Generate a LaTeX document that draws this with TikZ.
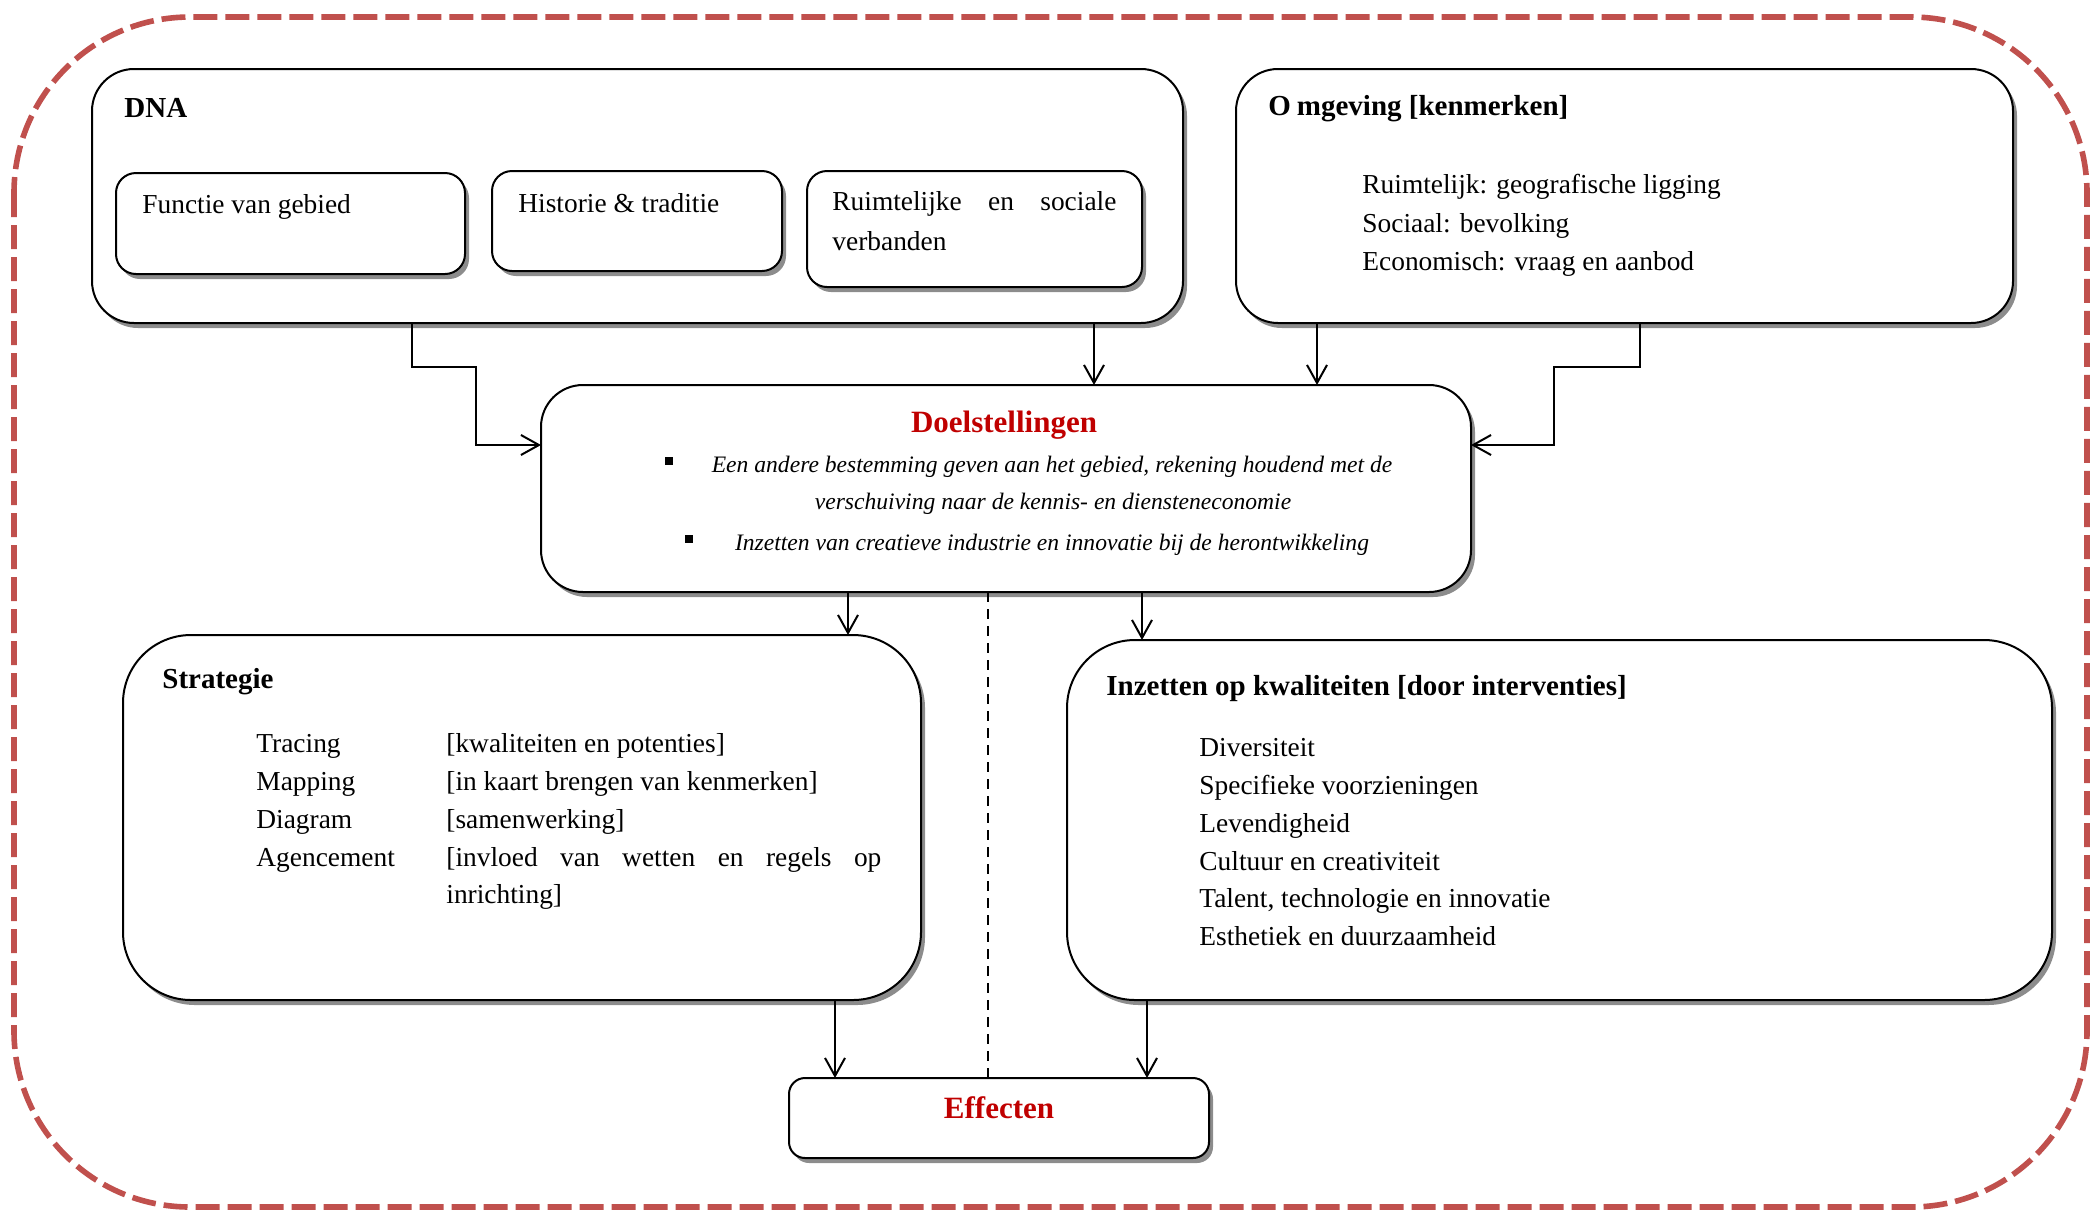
\documentclass[tikz,border=0pt]{standalone}
\usepackage{fontspec}
\setmainfont{Liberation Serif}
\usetikzlibrary{arrows.meta,shadows}
\definecolor{outerred}{RGB}{192,80,77}
\definecolor{titlered}{RGB}{192,0,0}
\tikzset{
  box/.style={draw, line width=1pt, fill=white, rounded corners=#1, inner sep=0pt, outer sep=0pt,
    drop shadow={shadow xshift=2pt, shadow yshift=-2.5pt, fill=black, opacity=0.45}},
  txt/.style={anchor=base west, inner sep=0pt, font=\fontsize{13.7}{16}\selectfont},
  ttl/.style={anchor=base west, inner sep=0pt, font=\fontsize{14.5}{17}\selectfont\bfseries},
  itl/.style={anchor=base, inner sep=0pt, font=\fontsize{11.8}{14}\selectfont\itshape},
  redttl/.style={anchor=base, inner sep=0pt, text=titlered, font=\fontsize{15.5}{18}\selectfont\bfseries},
  conn/.style={line width=1pt},
  arr/.style={conn, -{Straight Barb[length=9pt,width=10pt]}},
  bulletsq/.style={fill=black, minimum size=4pt, inner sep=0pt, outer sep=0pt},
  outerborder/.style={draw=outerred, line width=2.8pt, dash pattern=on 12pt off 4pt, rounded corners=88pt}
}
\begin{document}
\begin{tikzpicture}[x=0.5pt,y=-0.5pt]
\useasboundingbox (0,0) rectangle (2091,1211);
% outer dashed frame
\draw[outerborder] (14,17) rectangle (2087,1207);

% boxes
\node[box=21pt, minimum width=545.5pt, minimum height=127pt] (dna) at (637.5,196) {};
\node[box=10pt, minimum width=174.5pt, minimum height=50.5pt] (fun) at (290.5,223.5) {};
\node[box=10pt, minimum width=145pt, minimum height=50pt] (his) at (637,221) {};
\node[box=10pt, minimum width=167.5pt, minimum height=58pt] (rui) at (974.5,229) {};
\node[box=21pt, minimum width=388.5pt, minimum height=127pt] (omg) at (1624.5,196) {};
\node[box=21pt, minimum width=465pt, minimum height=103.5pt] (doel) at (1006,488.5) {};
\node[box=34pt, minimum width=399pt, minimum height=182.5pt] (strat) at (522,817.5) {};
\node[box=34pt, minimum width=492.5pt, minimum height=180pt] (inz) at (1559.5,820) {};
\node[box=8pt, minimum width=210pt, minimum height=40pt] (eff) at (999,1118) {};

% connectors
\draw[arr] (dna.south -| 412,0) -- (412,367) -- (476,367) -- (476,445) -- (doel.west |- 0,445);
\draw[arr] (dna.south -| 1094,0) -- (doel.north -| 1094,0);
\draw[arr] (omg.south -| 1317,0) -- (doel.north -| 1317,0);
\draw[arr] (omg.south -| 1640,0) -- (1640,367) -- (1554,367) -- (1554,445) -- (doel.east |- 0,445);
\draw[arr] (doel.south -| 848,0) -- (strat.north -| 848,0);
\draw[arr] (doel.south -| 1142,0) -- (inz.north -| 1142,0);
\draw[line width=0.8pt, dash pattern=on 5pt off 3.5pt] (doel.south -| 988,0) -- (eff.north -| 988,0);
\draw[arr] (strat.south -| 835,0) -- (eff.north -| 835,0);
\draw[arr] (inz.south -| 1147,0) -- (eff.north -| 1147,0);

% DNA texts
\node[ttl] (tdna) at (124,117) {DNA};
\node[txt] (tfun) at (142,213) {Functie van gebied};
\node[txt] (this) at (518,212) {Historie \& traditie};
\node[txt] (truia) at (832,210) {\makebox[142pt][s]{Ruimtelijke en sociale}};
\node[txt] (truib) at (832,250) {verbanden};

% Omgeving texts
\node[ttl] (tomg) at (1268,115) {O\kern3pt mgeving [kenmerken]};
\node[txt] (tomg1) at (1362,193) {Ruimtelijk: geografische ligging};
\node[txt] (tomg2) at (1362,232) {Sociaal: bevolking};
\node[txt] (tomg3) at (1362,270) {Economisch: vraag en aanbod};

% Doelstellingen texts
\node[redttl] (tdoel) at (1004,432) {Doelstellingen};
\node[bulletsq] (b1) at (669,461) {};
\node[bulletsq] (b2) at (689,539) {};
\node[itl] (tdoel1) at (1052,472) {Een andere bestemming geven aan het gebied, rekening houdend met de};
\node[itl] (tdoel2) at (1053,509) {verschuiving naar de kennis- en diensteneconomie};
\node[itl] (tdoel3) at (1052,550) {Inzetten van creatieve industrie en innovatie bij de herontwikkeling};

% Strategie texts
\node[ttl] (tstrat) at (162,688) {Strategie};
\node[txt] (s1a) at (256,752) {Tracing};
\node[txt] (s1b) at (446,752) {[kwaliteiten en potenties]};
\node[txt] (s2a) at (256,790) {Mapping};
\node[txt] (s2b) at (446,790) {[in kaart brengen van kenmerken]};
\node[txt] (s3a) at (256,828) {Diagram};
\node[txt] (s3b) at (446,828) {[samenwerking]};
\node[txt] (s4a) at (256,866) {Agencement};
\node[txt] (s4b) at (446,866) {\makebox[217.5pt][s]{[invloed van wetten en regels op}};
\node[txt] (s4c) at (446,903) {inrichting]};

% Inzetten texts
\node[ttl] (tinz) at (1106,695) {Inzetten op kwaliteiten [door interventies]};
\node[txt] (i1) at (1199,756) {Diversiteit};
\node[txt] (i2) at (1199,794) {Specifieke voorzieningen};
\node[txt] (i3) at (1199,832) {Levendigheid};
\node[txt] (i4) at (1199,870) {Cultuur en creativiteit};
\node[txt] (i5) at (1199,907) {Talent, technologie en innovatie};
\node[txt] (i6) at (1199,945) {Esthetiek en duurzaamheid};

% Effecten
\node[redttl] (teff) at (999,1118) {Effecten};
\end{tikzpicture}
\end{document}
